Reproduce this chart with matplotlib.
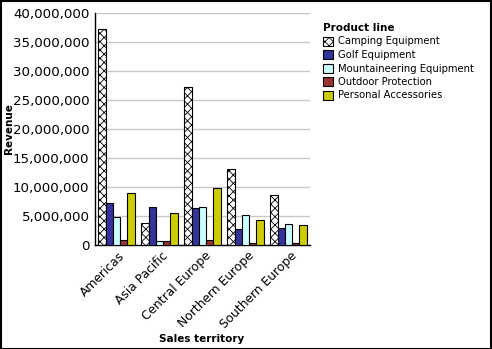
import matplotlib
matplotlib.use("Agg")
import matplotlib.pyplot as plt
import numpy as np
from matplotlib.ticker import FuncFormatter
from matplotlib.patches import Rectangle

territories = ["Americas", "Asia Pacific", "Central Europe", "Northern Europe", "Southern Europe"]
product_lines = ["Camping Equipment", "Golf Equipment", "Mountaineering Equipment",
                 "Outdoor Protection", "Personal Accessories"]
camping = [37300000, 3800000, 27200000, 13100000, 8600000]
golf = [7250000, 6550000, 6300000, 2750000, 2950000]
mountaineering = [4850000, 650000, 6550000, 5200000, 3600000]
outdoor = [850000, 700000, 850000, 300000, 300000]
personal = [8950000, 5500000, 9850000, 4300000, 3450000]
y_ticks = [0, 5000000, 10000000, 15000000, 20000000, 25000000, 30000000, 35000000, 40000000]

series = [camping, golf, mountaineering, outdoor, personal]
colors = ["white", "#333399", "#CCFFFF", "#993333", "#CCCC00"]
hatches = ["xxxx", None, None, None, None]

plt.rcParams["font.family"] = ["DejaVu Sans"]
plt.rcParams["hatch.linewidth"] = 0.6

fig = plt.figure(figsize=(4.92, 3.49), dpi=100)
ax = fig.add_axes([95/492, 1-245/349, (310-95)/492, (245-13)/349])

x = np.arange(len(territories))
bw = 0.17
for i, (vals, c, h) in enumerate(zip(series, colors, hatches)):
    ax.bar(x + (i - 2) * bw, vals, bw, color=c, edgecolor="black", linewidth=0.8,
           hatch=h, label=product_lines[i], zorder=3)

ax.set_xlim(-0.5, len(territories) - 0.5)
ax.set_ylim(0, 40000000)
ax.set_yticks(y_ticks)
ax.yaxis.set_major_formatter(FuncFormatter(lambda v, p: f"{int(v):,}"))
ax.grid(axis="y", color="#c8c8c8", linewidth=1, zorder=0)
ax.tick_params(axis="y", length=0, labelsize=9.6, pad=4)
ax.tick_params(axis="x", length=0, labelsize=8.8, pad=3)
ax.set_xticks(x + 0.05)
ax.set_xticklabels(territories, rotation=45, ha="right", rotation_mode="anchor")
for s in ["top", "right"]:
    ax.spines[s].set_visible(False)
ax.spines["left"].set_linewidth(1)
ax.spines["bottom"].set_linewidth(1)

ax.set_ylabel("Revenue", fontsize=7.5, fontweight="bold")
ax.yaxis.set_label_coords(-0.375, 0.5)
fig.text(202/492, 1-339/349, "Sales territory", fontsize=7.5, fontweight="bold",
         ha="center", va="center")

leg = fig.legend(loc="upper left", bbox_to_anchor=(318/492, 1-18/349), frameon=False,
                 fontsize=7.2, title="Product line", handlelength=1.0, handleheight=1.0,
                 handletextpad=0.5, labelspacing=0.35, borderpad=0, alignment="left",
                 title_fontproperties={"weight": "bold", "size": 7.5})

fig.patches.append(Rectangle((0.5/492, 0.5/349), 1-1.5/492, 1-1.5/349, transform=fig.transFigure,
                             fill=False, edgecolor="black", linewidth=1.5))

fig.savefig("out.png", dpi=100)
